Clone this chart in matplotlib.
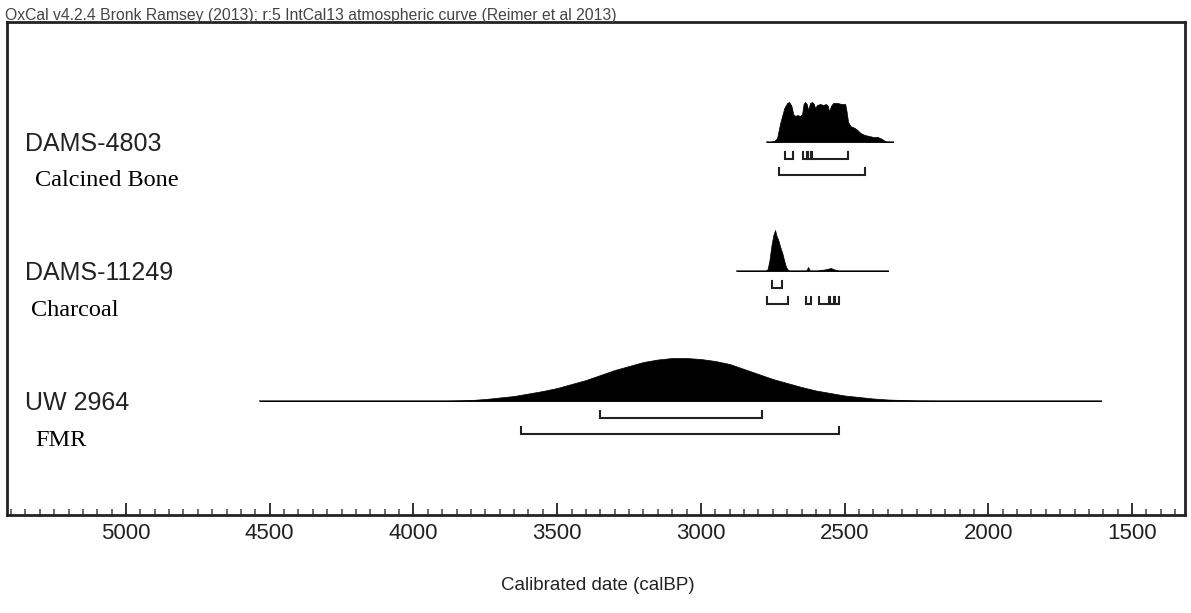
import matplotlib
matplotlib.use("Agg")
import matplotlib.pyplot as plt
from matplotlib.ticker import MultipleLocator

#===== DATA (calBP) =====#
samples = ["DAMS-4803", "DAMS-11249", "UW 2964"]
materials = ["Calcined Bone", "Charcoal", "FMR"]

# DAMS-4803 probability (relative height, max 40)
d4803_years = [2770, 2760, 2745, 2735, 2725, 2710, 2700, 2693, 2685, 2679, 2672, 2665,
               2655, 2648, 2643, 2638, 2632, 2627, 2620, 2613, 2607, 2603, 2596, 2585,
               2575, 2565, 2558, 2554, 2548, 2540, 2525, 2510, 2498, 2493, 2488, 2480,
               2465, 2456, 2445, 2430, 2415, 2400, 2385, 2370, 2360, 2350, 2331]
d4803_prob = [0, 0, 1, 4, 18, 34, 39, 40, 36, 28, 26, 27,
              26, 28, 38, 40, 38, 32, 39, 40, 38, 34, 37, 38,
              37, 38, 36, 30, 36, 39, 39, 38, 38, 30, 20, 16,
              14, 12, 9, 7, 6, 5, 5, 3, 1, 0, 0]
d4803_1s = [(2707, 2680), (2644, 2632), (2629, 2618), (2615, 2490)]
d4803_2s = [(2728, 2429)]

# DAMS-11249
d11249_years = [2874, 2775, 2768, 2762, 2755, 2748, 2742, 2738, 2731, 2724, 2717, 2710,
                2704, 2697, 2690, 2635, 2627, 2620, 2595, 2585, 2570, 2555, 2548, 2540,
                2530, 2520, 2349]
d11249_prob = [0, 0, 2, 10, 25, 36, 41, 36, 31, 24, 18, 10,
               4, 1, 0, 0, 4, 0, 0, 1, 1.5, 2.5, 3, 2,
               1, 0, 0]
d11249_1s = [(2752, 2717)]
d11249_2s = [(2770, 2697), (2634, 2617), (2589, 2553), (2550, 2536), (2533, 2518)]

# UW 2964
uw2964_years = [4534, 3900, 3850, 3800, 3750, 3700, 3650, 3600, 3550, 3500, 3450, 3400,
                3350, 3300, 3250, 3200, 3150, 3100, 3050, 3000, 2950, 2900, 2850, 2800,
                2750, 2700, 2650, 2600, 2550, 2500, 2450, 2400, 2350, 2300, 2250, 2200,
                2150, 1608]
uw2964_prob = [0, 0, 0.5, 1, 2, 3.5, 5, 7.5, 10, 13, 17, 21,
               26, 31, 35, 39, 41.5, 43, 43, 42, 40, 37, 32, 27,
               22, 18, 14, 10.5, 8, 5.5, 4, 2.5, 1.5, 1, 0.5, 0.3,
               0, 0]
uw2964_1s = [(3351, 2787)]
uw2964_2s = [(3626, 2519)]

curves = [(d4803_years, d4803_prob, d4803_1s, d4803_2s),
          (d11249_years, d11249_prob, d11249_1s, d11249_2s),
          (uw2964_years, uw2964_prob, uw2964_1s, uw2964_2s)]

major_ticks = [5000, 4500, 4000, 3500, 3000, 2500, 2000, 1500]

#===== LAYOUT (pixels) =====#
W, H = 1191, 613
frame_l, frame_r, frame_t, frame_b = 7, 1185, 22, 515
baselines_px = [142, 271, 401]
name_px = [151, 280, 410]
mat_px = [186, 316, 446]
mat_x = [35, 31, 35]


def fx(x):
    return x / W


def fy(y):
    return 1 - y / H


fig = plt.figure(figsize=(W / 100, H / 100), dpi=100)
ax = fig.add_axes([fx(frame_l), fy(frame_b), (frame_r - frame_l) / W,
                   (frame_b - frame_t) / H])
ax.set_xlim(5414, 1316)
ax.set_ylim(0, frame_b - frame_t)

for i, (yrs, prob, one_s, two_s) in enumerate(curves):
    base = frame_b - baselines_px[i]
    top = [base + p for p in prob]
    ax.plot([yrs[0], yrs[-1]], [base, base], color="#555555", lw=1.3, zorder=2)
    ax.fill_between(yrs, base, top, color="black", lw=0.5, zorder=3)
    # 68.2% and 95.4% ranges as brackets
    for off, ranges in [(16.5, one_s), (33, two_s)]:
        y0 = base - off
        for a, b in ranges:
            ax.plot([a, a, b, b], [y0 + 7, y0, y0, y0 + 7], color="#222222",
                    lw=1.5, solid_joinstyle="miter", zorder=3)

for s in ax.spines.values():
    s.set_linewidth(2)
    s.set_color("#222222")

ax.set_xticks(major_ticks)
ax.xaxis.set_minor_locator(MultipleLocator(50))
ax.tick_params(axis="x", which="major", direction="in", length=9, width=1.3,
               color="#222222", labelsize=16, pad=6)
ax.tick_params(axis="x", which="minor", direction="in", length=4, width=1.1,
               color="#444444")
ax.tick_params(axis="y", left=False, labelleft=False)
for lab in ax.get_xticklabels():
    lab.set_fontfamily("Liberation Sans")
    lab.set_color("#222222")

fig.text(0.502, fy(590), "Calibrated date (calBP)", ha="center", va="baseline",
         fontsize=13.5, family="Liberation Sans", color="#222222")

fig.text(fx(5), fy(20), "OxCal v4.2.4 Bronk Ramsey (2013); r:5 IntCal13 atmospheric curve (Reimer et al 2013)",
         ha="left", va="baseline", fontsize=11.3, family="Liberation Sans", color="#444444")

for i in range(3):
    fig.text(fx(25), fy(name_px[i]), samples[i], ha="left", va="baseline",
             fontsize=18, family="Liberation Sans", color="#222222")
    fig.text(fx(mat_x[i]), fy(mat_px[i]), materials[i], ha="left", va="baseline",
             fontsize=17.5, family="Liberation Serif", color="black")

fig.savefig("out.png", dpi=100)
